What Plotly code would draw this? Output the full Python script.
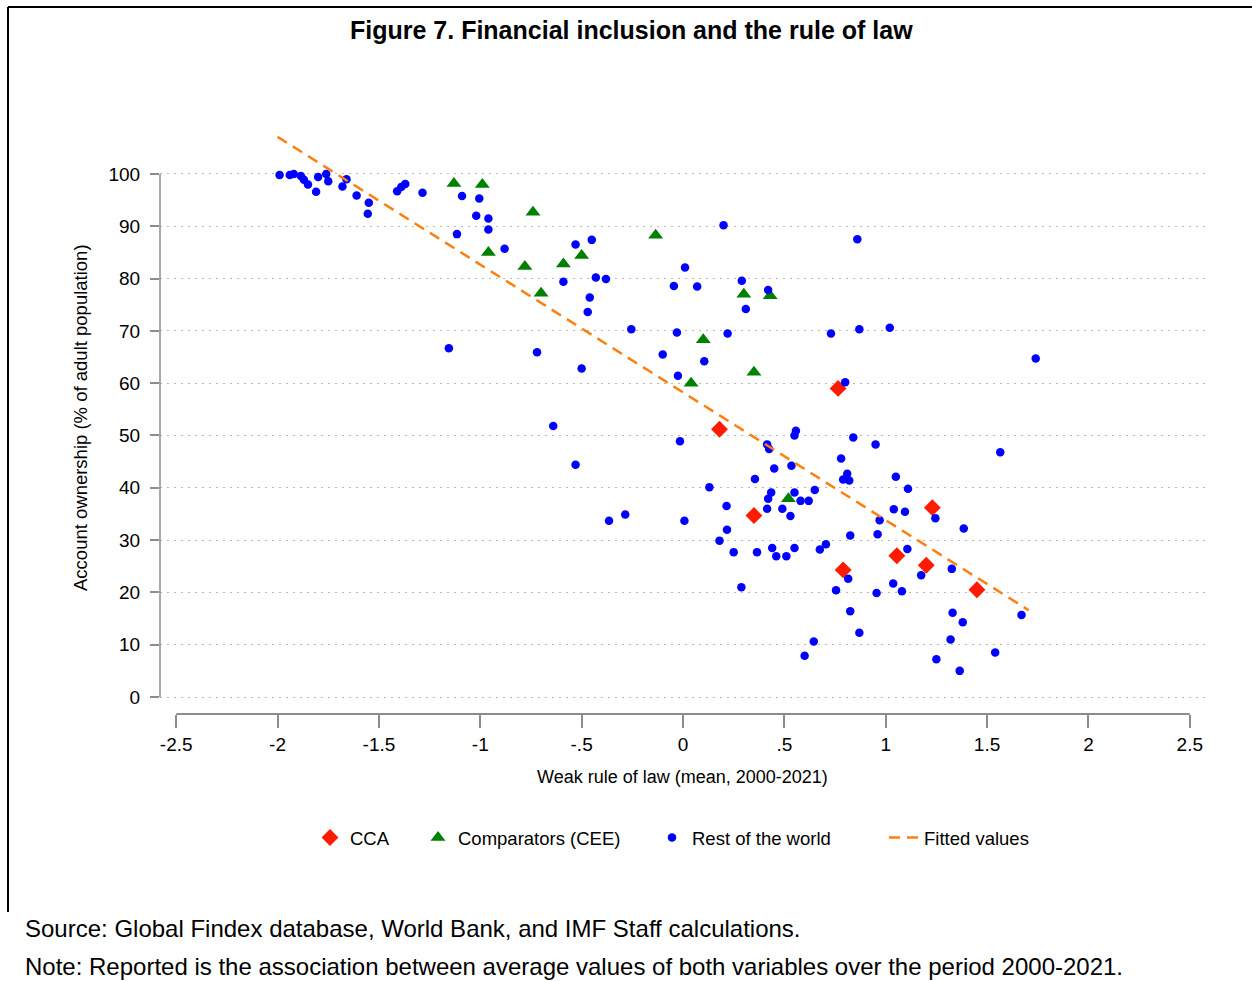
import plotly.graph_objects as go

# CCA countries (red diamonds)
cca_x = [0.765, 0.18, 0.35, 1.23, 1.055, 1.20, 0.79, 1.45]
cca_y = [59.0, 51.2, 34.7, 36.2, 27.0, 25.2, 24.3, 20.5]

# Comparators (CEE) (green triangles)
cee_x = [-1.13, -0.99, -0.74, -0.96, -0.78, -0.59, -0.50, -0.70, -0.135,
         0.30, 0.43, 0.10, 0.35, 0.04, 0.52]
cee_y = [98.2, 98.0, 92.7, 85.0, 82.3, 82.8, 84.4, 77.2, 88.3,
         77.0, 76.7, 68.3, 62.1, 60.0, 37.9]

# Rest of the world (blue dots)
row_x = [-1.99, -1.94, -1.92, -1.885, -1.87, -1.85, -1.81, -1.80, -1.76, -1.75,
         -1.68, -1.66, -1.61, -1.55, -1.555, -1.41, -1.39, -1.37, -1.285, -1.09,
         -1.005, -1.02, -0.96, -0.96, -1.115, -0.88, -0.53, -0.45, -0.59, -0.43,
         -0.38, -0.46, -0.47, 0.20, 0.01, -0.045, 0.07, 0.29, 0.86, 0.42,
         0.31, -0.255, -0.03, 0.22, -0.10, 0.105, -0.025, 0.73, 0.87, 1.02,
         0.80, -1.155, -0.72, -0.50, -0.64, -0.53, -0.015, -0.365, -0.285, 0.007,
         0.557, 0.55, 0.84, 0.95, 0.415, 0.425, 0.78, 0.45, 0.535, 0.355,
         0.81, 0.79, 0.82, 1.05, 1.11, 0.13, 0.435, 0.42, 0.55, 0.58,
         0.62, 0.65, 0.415, 0.49, 0.53, 0.215, 1.04, 1.095, 1.245, 0.97,
         0.217, 0.18, 0.825, 0.96, 0.705, 0.675, 0.55, 0.44, 0.25, 0.365,
         0.46, 0.51, 1.107, 0.288, 0.815, 0.755, 0.955, 0.825, 0.87, 0.645,
         0.60, 1.037, 1.08, 1.175, 1.25, 1.74, 1.565, 1.385, 1.326, 1.67,
         1.33, 1.38, 1.32, 1.54, 1.365]
row_y = [99.8, 99.8, 100.0, 99.6, 98.9, 98.0, 96.6, 99.4, 100.0, 98.6,
         97.6, 99.0, 95.9, 94.5, 92.4, 96.7, 97.5, 98.1, 96.4, 95.8,
         95.3, 92.0, 91.5, 89.4, 88.5, 85.7, 86.5, 87.4, 79.4, 80.2,
         79.9, 76.4, 73.6, 90.2, 82.1, 78.6, 78.5, 79.6, 87.5, 77.8,
         74.2, 70.3, 69.7, 69.5, 65.5, 64.2, 61.4, 69.5, 70.3, 70.6,
         60.2, 66.7, 65.9, 62.8, 51.8, 44.4, 48.9, 33.7, 34.9, 33.7,
         50.9, 50.0, 49.6, 48.3, 48.3, 47.4, 45.6, 43.7, 44.2, 41.7,
         42.7, 41.6, 41.4, 42.1, 39.8, 40.1, 39.1, 37.9, 39.1, 37.5,
         37.5, 39.6, 36.0, 36.0, 34.6, 36.5, 35.9, 35.4, 34.2, 33.8,
         32.0, 29.9, 30.9, 31.1, 29.2, 28.2, 28.5, 28.5, 27.7, 27.7,
         26.9, 26.9, 28.3, 21.0, 22.6, 20.4, 19.9, 16.4, 12.3, 10.6,
         7.9, 21.7, 20.2, 23.3, 7.2, 64.7, 46.8, 32.2, 24.5, 15.7,
         16.1, 14.3, 11.0, 8.5, 5.0]

# Fitted values (end points of the linear fit)
fit_x = [-2.0, 1.705]
fit_y = [107.1, 16.6]

x_ticks = [-2.5, -2, -1.5, -1, -0.5, 0, 0.5, 1, 1.5, 2, 2.5]
x_tick_labels = ["-2.5", "-2", "-1.5", "-1", "-.5", "0", ".5", "1", "1.5", "2", "2.5"]
x_grid = [-2, -1.5, -1, -0.5, 0, 0.5, 1, 1.5, 2]
y_ticks = [0, 10, 20, 30, 40, 50, 60, 70, 80, 90, 100]

NARROW = "Liberation Sans Narrow, Arial Narrow, Liberation Sans, Arial, sans-serif"
ARIAL = "Liberation Sans, Arial, sans-serif"

W, H = 1252, 981
L, R, T, B = 160, 1206, 118, 714


def px_x(px):
    return (px - L) / (R - L)


def px_y(py):
    return (B - py) / (B - T)


fig = go.Figure()
fig.add_trace(go.Scatter(
    x=cca_x, y=cca_y, mode="markers", name="CCA", legend="legend",
    marker={"symbol": "diamond", "size": 13, "color": "#ff1a00",
            "line": {"width": 0}},
))
fig.add_trace(go.Scatter(
    x=cee_x, y=cee_y, mode="markers", name="Comparators (CEE)", legend="legend2",
    marker={"symbol": "triangle-up", "size": 13, "color": "#008000",
            "line": {"width": 0}},
))
fig.add_trace(go.Scatter(
    x=row_x, y=row_y, mode="markers", name="Rest of the world", legend="legend3",
    marker={"symbol": "circle", "size": 8.5, "color": "#0000ff",
            "line": {"width": 0}},
))
fig.add_trace(go.Scatter(
    x=fit_x, y=fit_y, mode="lines", name="Fitted values", legend="legend4",
    line={"color": "#ff7f0e", "width": 2.5, "dash": "11px,7px"},
))

grid_color = "#b8b8b8"
legend_common = {
    "yanchor": "middle", "xanchor": "left", "y": px_y(838),
    "font": {"family": NARROW, "size": 18.5, "color": "#000000"},
    "bgcolor": "rgba(0,0,0,0)", "borderwidth": 0,
}

fig.update_layout(
    width=W, height=H,
    margin={"l": L, "r": W - R, "t": T, "b": H - B},
    paper_bgcolor="#ffffff", plot_bgcolor="#ffffff",
    showlegend=True,
    legend={**legend_common, "x": px_x(310)},
    legend2={**legend_common, "x": px_x(418)},
    legend3={**legend_common, "x": px_x(652)},
    legend4={**legend_common, "x": px_x(884)},
    xaxis={
        "range": [-2.58, 2.58], "domain": [0, 1],
        "anchor": "free", "position": 0,
        "tickvals": x_ticks, "ticktext": x_tick_labels,
        "ticks": "outside", "ticklen": 13, "tickwidth": 1.5, "tickcolor": "#8c8c8c",
        "showgrid": False, "zeroline": False, "showline": False,
        "tickfont": {"family": NARROW, "size": 19, "color": "#000000"},
    },
    xaxis2={
        "range": [-2.58, 2.58], "overlaying": "x", "anchor": "y",
        "tickvals": x_grid, "showticklabels": False, "ticks": "",
        "showgrid": True, "gridcolor": grid_color, "gridwidth": 1,
        "griddash": "2px,5px", "zeroline": False, "showline": False,
    },
    yaxis={
        "range": [-0.57, 110.7], "domain": [px_y(700), 1],
        "tickvals": y_ticks,
        "ticks": "outside", "ticklen": 9, "tickwidth": 1.5, "tickcolor": "#8c8c8c",
        "ticklabelstandoff": 6,
        "showgrid": True, "gridcolor": grid_color, "gridwidth": 1,
        "griddash": "2px,5px", "zeroline": False, "showline": False,
        "tickfont": {"family": NARROW, "size": 19, "color": "#000000"},
    },
    shapes=[
        # y axis line (0 to 100)
        {"type": "line", "xref": "paper", "yref": "y", "x0": 0, "x1": 0,
         "y0": 0, "y1": 100, "line": {"color": "#8c8c8c", "width": 1.5}},
        # x axis line (-2.5 to 2.5)
        {"type": "line", "xref": "x", "yref": "paper", "x0": -2.5, "x1": 2.5,
         "y0": 0, "y1": 0, "line": {"color": "#8c8c8c", "width": 2}},
        # frame: top and left border
        {"type": "line", "xref": "paper", "yref": "paper", "x0": px_x(8), "x1": px_x(1252),
         "y0": px_y(7), "y1": px_y(7), "line": {"color": "#000000", "width": 2}},
        {"type": "line", "xref": "paper", "yref": "paper", "x0": px_x(8), "x1": px_x(8),
         "y0": px_y(7), "y1": px_y(912), "line": {"color": "#000000", "width": 2}},
    ],
    annotations=[
        {"text": "<b>Figure 7. Financial inclusion and the rule of law</b>",
         "xref": "paper", "yref": "paper", "x": px_x(631), "y": px_y(30),
         "xanchor": "center", "yanchor": "middle", "showarrow": False,
         "font": {"family": ARIAL, "size": 25, "color": "#000000"}},
        {"text": "Weak rule of law (mean, 2000-2021)",
         "xref": "paper", "yref": "paper", "x": px_x(682), "y": px_y(777),
         "xanchor": "center", "yanchor": "middle", "showarrow": False,
         "font": {"family": NARROW, "size": 18, "color": "#000000"}},
        {"text": "Account ownership (% of adult population)",
         "xref": "paper", "yref": "paper", "x": px_x(80), "y": px_y(418),
         "xanchor": "center", "yanchor": "middle", "showarrow": False,
         "textangle": -90,
         "font": {"family": NARROW, "size": 18.5, "color": "#000000"}},
        {"text": "Source: Global Findex database, World Bank, and IMF Staff calculations.",
         "xref": "paper", "yref": "paper", "x": px_x(23), "y": px_y(929),
         "xanchor": "left", "yanchor": "middle", "showarrow": False,
         "font": {"family": ARIAL, "size": 24, "color": "#000000"}},
        {"text": "Note: Reported is the association between average values of both variables over the period 2000-2021.",
         "xref": "paper", "yref": "paper", "x": px_x(23), "y": px_y(966),
         "xanchor": "left", "yanchor": "middle", "showarrow": False,
         "font": {"family": ARIAL, "size": 24, "color": "#000000"}},
    ],
)

# drop the browser's default 8px body margin so the figure sits at the page corner
fig.write_html(
    "out.html",
    config={"displayModeBar": False},
    post_script="document.body.style.margin='0';document.body.style.overflow='hidden';",
)
